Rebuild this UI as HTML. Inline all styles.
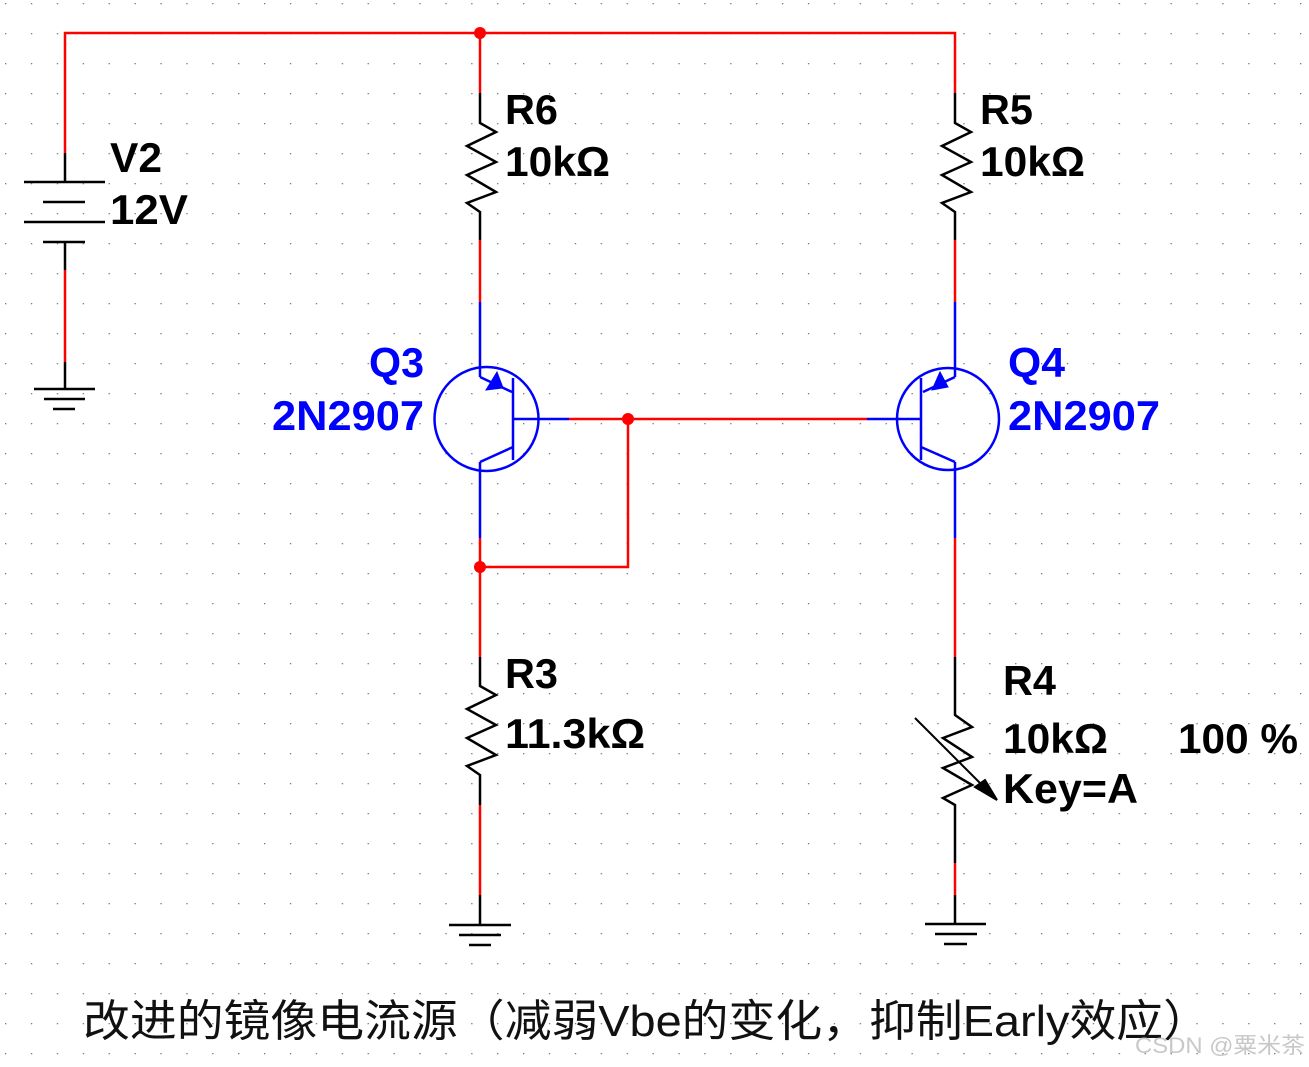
<!DOCTYPE html>
<html><head><meta charset="utf-8"><style>
html,body{margin:0;padding:0;background:#fff;}
svg{display:block;}
.l{font-family:"Liberation Sans",sans-serif;font-weight:bold;font-size:42px;}
</style></head><body>
<svg width="1309" height="1067" viewBox="0 0 1309 1067" xmlns="http://www.w3.org/2000/svg">
<defs>
<pattern id="dots" x="5" y="3" width="25.9" height="30" patternUnits="userSpaceOnUse">
<rect x="0" y="0" width="1.3" height="1.3" fill="#777"/>
</pattern>
</defs>
<rect width="1309" height="1067" fill="#fff"/>
<rect width="1309" height="1067" fill="url(#dots)"/>
<g fill="none" stroke-width="2.5" stroke-linecap="butt">
<polyline points="65,153 65,33 955,33 955,93" stroke="#f00"/>
<line x1="65" y1="153" x2="65" y2="182" stroke="#000"/>
<line x1="24" y1="182" x2="105" y2="182" stroke="#000"/>
<line x1="43" y1="202" x2="85" y2="202" stroke="#000"/>
<line x1="24" y1="222" x2="105" y2="222" stroke="#000"/>
<line x1="43" y1="242" x2="85" y2="242" stroke="#000"/>
<line x1="65" y1="242" x2="65" y2="270" stroke="#000"/>
<line x1="65" y1="270" x2="65" y2="362" stroke="#f00"/>
<line x1="65" y1="362" x2="65" y2="389" stroke="#000"/>
<line x1="34" y1="389" x2="95" y2="389" stroke="#000"/>
<line x1="44" y1="399" x2="85" y2="399" stroke="#000"/>
<line x1="53" y1="409" x2="75" y2="409" stroke="#000"/>
<line x1="480" y1="33" x2="480" y2="93" stroke="#f00"/>
<polyline points="480,93 480,123 496,132 467,146 496,162 467,175 496,192 467,203 480,212 480,240" stroke="#000"/>
<line x1="480" y1="240" x2="480" y2="302" stroke="#f00"/>
<polyline points="955,93 955,123 971,132 942,146 971,162 942,175 971,192 942,203 955,212 955,240" stroke="#000"/>
<line x1="955" y1="240" x2="955" y2="302" stroke="#f00"/>
<g stroke="#00f">
<line x1="480" y1="302" x2="480" y2="377"/>
<line x1="480" y1="377" x2="512" y2="392"/>
<circle cx="486.5" cy="419" r="52"/>
<line x1="513" y1="378" x2="513" y2="460"/>
<line x1="513" y1="419" x2="569" y2="419"/>
<line x1="513" y1="447" x2="480" y2="462"/>
<line x1="480" y1="462" x2="480" y2="538"/>
</g>
<polygon points="497,372 486,390 503,388" fill="#00f" stroke="#00f" stroke-width="1"/>
<g stroke="#00f">
<line x1="955" y1="302" x2="955" y2="377"/>
<line x1="955" y1="377" x2="923" y2="392"/>
<circle cx="948" cy="419" r="51"/>
<line x1="921" y1="378" x2="921" y2="460"/>
<line x1="867" y1="419" x2="921" y2="419"/>
<line x1="921" y1="447" x2="955" y2="462"/>
<line x1="955" y1="462" x2="955" y2="538"/>
</g>
<polygon points="940,372 932,390 948,387" fill="#00f" stroke="#00f" stroke-width="1"/>
<line x1="569" y1="419" x2="867" y2="419" stroke="#f00"/>
<polyline points="480,538 480,567 628,567 628,419" stroke="#f00"/>
<line x1="480" y1="567" x2="480" y2="657" stroke="#f00"/>
<polyline points="480,657 480,686 496,695 467,709 496,725 467,738 496,755 467,766 480,775 480,805" stroke="#000"/>
<line x1="480" y1="805" x2="480" y2="895" stroke="#f00"/>
<line x1="480" y1="895" x2="480" y2="925" stroke="#000"/>
<line x1="449" y1="925" x2="511" y2="925" stroke="#000"/>
<line x1="459" y1="935" x2="501" y2="935" stroke="#000"/>
<line x1="469" y1="945" x2="491" y2="945" stroke="#000"/>
<line x1="955" y1="538" x2="955" y2="657" stroke="#f00"/>
<polyline points="955,657 955,715 972,727 943,738 972,757 943,768 972,785 943,798 955,805 955,863" stroke="#000"/>
<line x1="955" y1="863" x2="955" y2="895" stroke="#f00"/>
<line x1="955" y1="895" x2="955" y2="924" stroke="#000"/>
<line x1="925" y1="924" x2="986" y2="924" stroke="#000"/>
<line x1="935" y1="934" x2="977" y2="934" stroke="#000"/>
<line x1="944" y1="944" x2="967" y2="944" stroke="#000"/>
<line x1="915" y1="718" x2="990" y2="793" stroke="#000" stroke-width="2"/>
</g>
<polygon points="997,800 975,787 985,780" fill="#000" stroke="#000" stroke-width="2"/>
<g fill="#f00">
<circle cx="480" cy="33" r="6"/>
<circle cx="628" cy="419" r="6"/>
<circle cx="480" cy="567" r="6"/>
</g>
<g class="l" fill="#000">
<text x="110" y="172" textLength="52" lengthAdjust="spacingAndGlyphs">V2</text>
<text x="110" y="224" textLength="78" lengthAdjust="spacingAndGlyphs">12V</text>
<text x="505" y="124" textLength="53" lengthAdjust="spacingAndGlyphs">R6</text>
<text x="505" y="176" textLength="105" lengthAdjust="spacingAndGlyphs">10kΩ</text>
<text x="980" y="124" textLength="53" lengthAdjust="spacingAndGlyphs">R5</text>
<text x="980" y="176" textLength="105" lengthAdjust="spacingAndGlyphs">10kΩ</text>
<text x="505" y="688" textLength="53" lengthAdjust="spacingAndGlyphs">R3</text>
<text x="505" y="748" textLength="140" lengthAdjust="spacingAndGlyphs">11.3kΩ</text>
<text x="1003" y="695" textLength="53" lengthAdjust="spacingAndGlyphs">R4</text>
<text x="1003" y="753" textLength="105" lengthAdjust="spacingAndGlyphs">10kΩ</text>
<text x="1178" y="753" textLength="120" lengthAdjust="spacingAndGlyphs">100 %</text>
<text x="1003" y="803" textLength="135" lengthAdjust="spacingAndGlyphs">Key=A</text>
</g>
<g class="l" fill="#00f">
<text x="369" y="377" textLength="55" lengthAdjust="spacingAndGlyphs">Q3</text>
<text x="272" y="430" textLength="152" lengthAdjust="spacingAndGlyphs">2N2907</text>
<text x="1008" y="377" textLength="57" lengthAdjust="spacingAndGlyphs">Q4</text>
<text x="1008" y="430" textLength="152" lengthAdjust="spacingAndGlyphs">2N2907</text>
</g>
<text x="83" y="1036" textLength="1127" lengthAdjust="spacingAndGlyphs" font-family="Liberation Sans, Noto Sans CJK SC, sans-serif" font-size="44" fill="#111">改进的镜像电流源（减弱Vbe的变化，抑制Early效应）</text>
<text x="1135" y="1053" textLength="170" lengthAdjust="spacingAndGlyphs" font-family="Liberation Sans, Noto Sans CJK SC, sans-serif" font-size="22" fill="#c8c8c8">CSDN @粟米茶</text>
</svg>
</body></html>
